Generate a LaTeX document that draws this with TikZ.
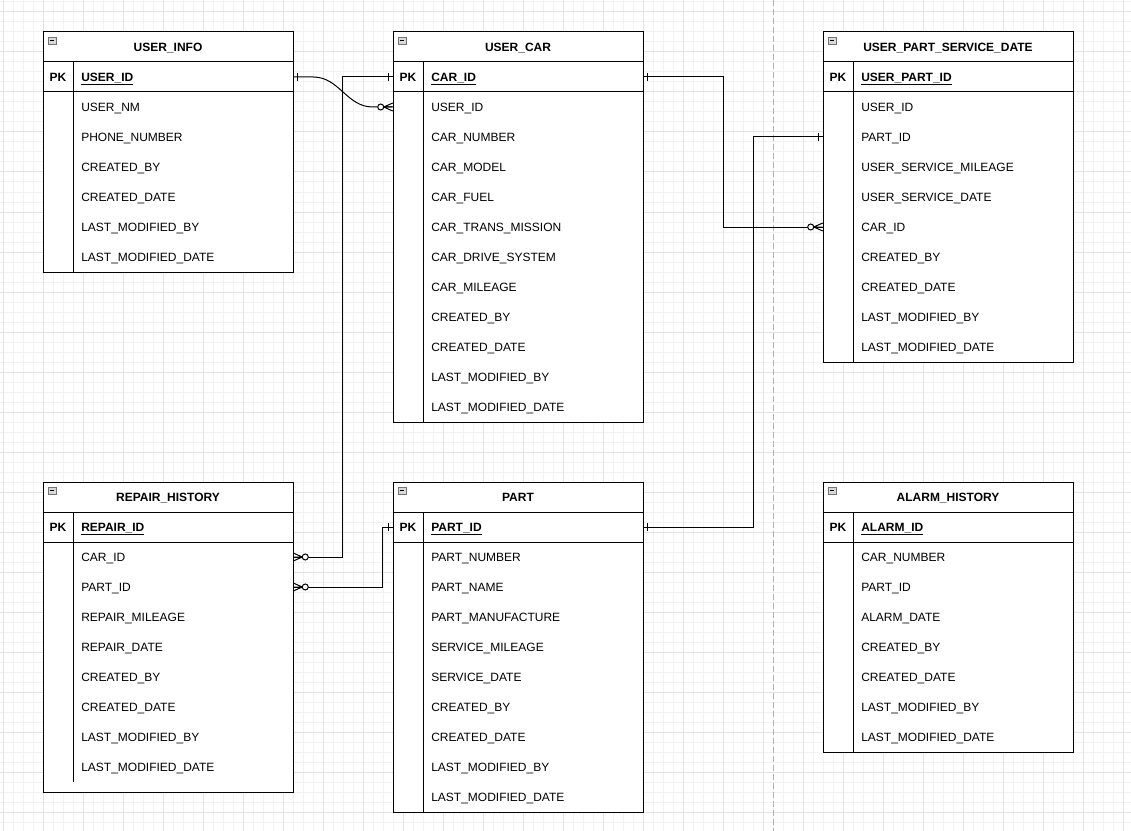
\documentclass[tikz,border=0pt]{standalone}
\usepackage{fontspec}
\setmainfont{Liberation Sans}
\begin{document}
\catcode`\_=12
\begin{tikzpicture}[x=0.75pt,y=-0.75pt,
  minorgrid/.style={draw=black!5,line width=0.75pt},
  majorgrid/.style={draw=black!11,line width=0.75pt},
  tbl/.style={draw=black,line width=0.75pt,fill=white},
  rowbox/.style={draw=none,minimum width=187.5pt,minimum height=22.5pt,inner sep=0pt},
  rowtext/.style={anchor=west,inner sep=0pt,text height=6.45pt,text depth=0pt,font=\fontsize{9pt}{10pt}\selectfont},
  titletext/.style={inner sep=0pt,text height=6.45pt,text depth=0pt,font=\fontsize{9pt}{10pt}\selectfont\bfseries},
  pktext/.style={inner sep=0pt,text height=6.45pt,text depth=0pt,font=\fontsize{9pt}{10pt}\selectfont\bfseries},
  conn/.style={draw=black,line width=0.75pt},
  ermark/.style={draw=black,line width=0.75pt},
]
\useasboundingbox (0,0) rectangle (1131,831);
% grid
\foreach \x in {3,13,...,1131} \draw[minorgrid] (\x,0) -- (\x,831);
\foreach \y in {2,12,...,831} \draw[minorgrid] (0,\y) -- (1131,\y);
\foreach \x in {3,43,...,1131} \draw[majorgrid] (\x,0) -- (\x,831);
\foreach \y in {12,52,...,831} \draw[majorgrid] (0,\y) -- (1131,\y);
\draw[draw=black!30,line width=0.75pt,dash pattern=on 4.5pt off 2.25pt] (773,0) -- (773,831);

% table macro: #1 id, #2 x, #3 y, #4 title, #5 pk field, #6 rows (comma list), #7 extra bottom px
\newcommand\ertable[7]{%
  \path[tbl] (#2,#3) rectangle ++(250,30);
  \node[titletext] (#1-title) at (#2+125,#3+15) {#4};
  \path[draw=black!55,fill=black!15,line width=0.5pt] (#2+5,#3+5) rectangle ++(8,7);
  \draw[line width=0.6pt] (#2+6.8,#3+8.5) -- ++(4.4,0);
  \path[tbl] (#2,#3+30) rectangle ++(250,30);
  \draw[line width=0.75pt] (#2+30,#3+30) -- ++(0,30);
  \node[rowbox] (#1-#5) at (#2+125,#3+45) {};
  \node[pktext] (#1-pk) at (#2+15,#3+45) {PK};
  \node[rowtext,font=\fontsize{9pt}{10pt}\selectfont\bfseries] (#1-#5-t) at (#2+38,#3+45) {\underline{#5}};
  \foreach \r [count=\i] in {#6} {\xdef\nrows{\i}}%
  \path[tbl] (#2,#3+60) rectangle ++(250,\nrows*30+#7);
  \draw[line width=0.75pt] (#2+30,#3+60) -- ++(0,\nrows*30);
  \foreach \r [count=\i] in {#6} {%
    \node[rowbox] (#1-\r) at (#2+125,#3+45+\i*30) {};
    \node[rowtext] (#1-\r-t) at (#2+38,#3+45+\i*30) {\r};
  }%
}
\ertable{ui}{43}{32}{USER_INFO}{USER_ID}{USER_NM,PHONE_NUMBER,CREATED_BY,CREATED_DATE,LAST_MODIFIED_BY,LAST_MODIFIED_DATE}{0}
\ertable{uc}{393}{32}{USER_CAR}{CAR_ID}{USER_ID,CAR_NUMBER,CAR_MODEL,CAR_FUEL,CAR_TRANS_MISSION,CAR_DRIVE_SYSTEM,CAR_MILEAGE,CREATED_BY,CREATED_DATE,LAST_MODIFIED_BY,LAST_MODIFIED_DATE}{0}
\ertable{up}{823}{32}{USER_PART_SERVICE_DATE}{USER_PART_ID}{USER_ID,PART_ID,USER_SERVICE_MILEAGE,USER_SERVICE_DATE,CAR_ID,CREATED_BY,CREATED_DATE,LAST_MODIFIED_BY,LAST_MODIFIED_DATE}{0}
\ertable{rh}{43}{482}{REPAIR_HISTORY}{REPAIR_ID}{CAR_ID,PART_ID,REPAIR_MILEAGE,REPAIR_DATE,CREATED_BY,CREATED_DATE,LAST_MODIFIED_BY,LAST_MODIFIED_DATE}{10}
\ertable{pa}{393}{482}{PART}{PART_ID}{PART_NUMBER,PART_NAME,PART_MANUFACTURE,SERVICE_MILEAGE,SERVICE_DATE,CREATED_BY,CREATED_DATE,LAST_MODIFIED_BY,LAST_MODIFIED_DATE}{0}
\ertable{ah}{823}{482}{ALARM_HISTORY}{ALARM_ID}{CAR_NUMBER,PART_ID,ALARM_DATE,CREATED_BY,CREATED_DATE,LAST_MODIFIED_BY,LAST_MODIFIED_DATE}{0}

% markers
\newcommand\onemark[2]{\begin{scope}[shift={(#1)},xscale=#2]\draw[ermark] (4,-4) -- (4,4);\end{scope}}
\newcommand\zmany[2]{\begin{scope}[shift={(#1)},xscale=#2]
  \draw[ermark] (0,-4) -- (9,0) -- (0,4) (0,0) -- (9,0);
  \draw[ermark,fill=white] (12,0) circle[radius=2.25pt];\end{scope}}

% connectors
\draw[conn] (ui-USER_ID.east) -- ([xshift=15pt]ui-USER_ID.east) to[out=0,in=180] ([xshift=-15pt]uc-USER_ID.west) -- (uc-USER_ID.west);
\onemark{ui-USER_ID.east}{1}
\zmany{uc-USER_ID.west}{-1}

\draw[conn] (uc-CAR_ID.east) -- ++(80,0) |- (up-CAR_ID.west);
\onemark{uc-CAR_ID.east}{1}
\zmany{up-CAR_ID.west}{-1}

\draw[conn] (pa-PART_ID.east) -- ++(110,0) |- (up-PART_ID.west);
\onemark{pa-PART_ID.east}{1}
\onemark{up-PART_ID.west}{-1}

\draw[conn] (uc-CAR_ID.west) -- ++(-50,0) |- (rh-CAR_ID.east);
\onemark{uc-CAR_ID.west}{-1}
\zmany{rh-CAR_ID.east}{1}

\draw[conn] (pa-PART_ID.west) -- ++(-10,0) |- (rh-PART_ID.east);
\onemark{pa-PART_ID.west}{-1}
\zmany{rh-PART_ID.east}{1}
\end{tikzpicture}
\end{document}
